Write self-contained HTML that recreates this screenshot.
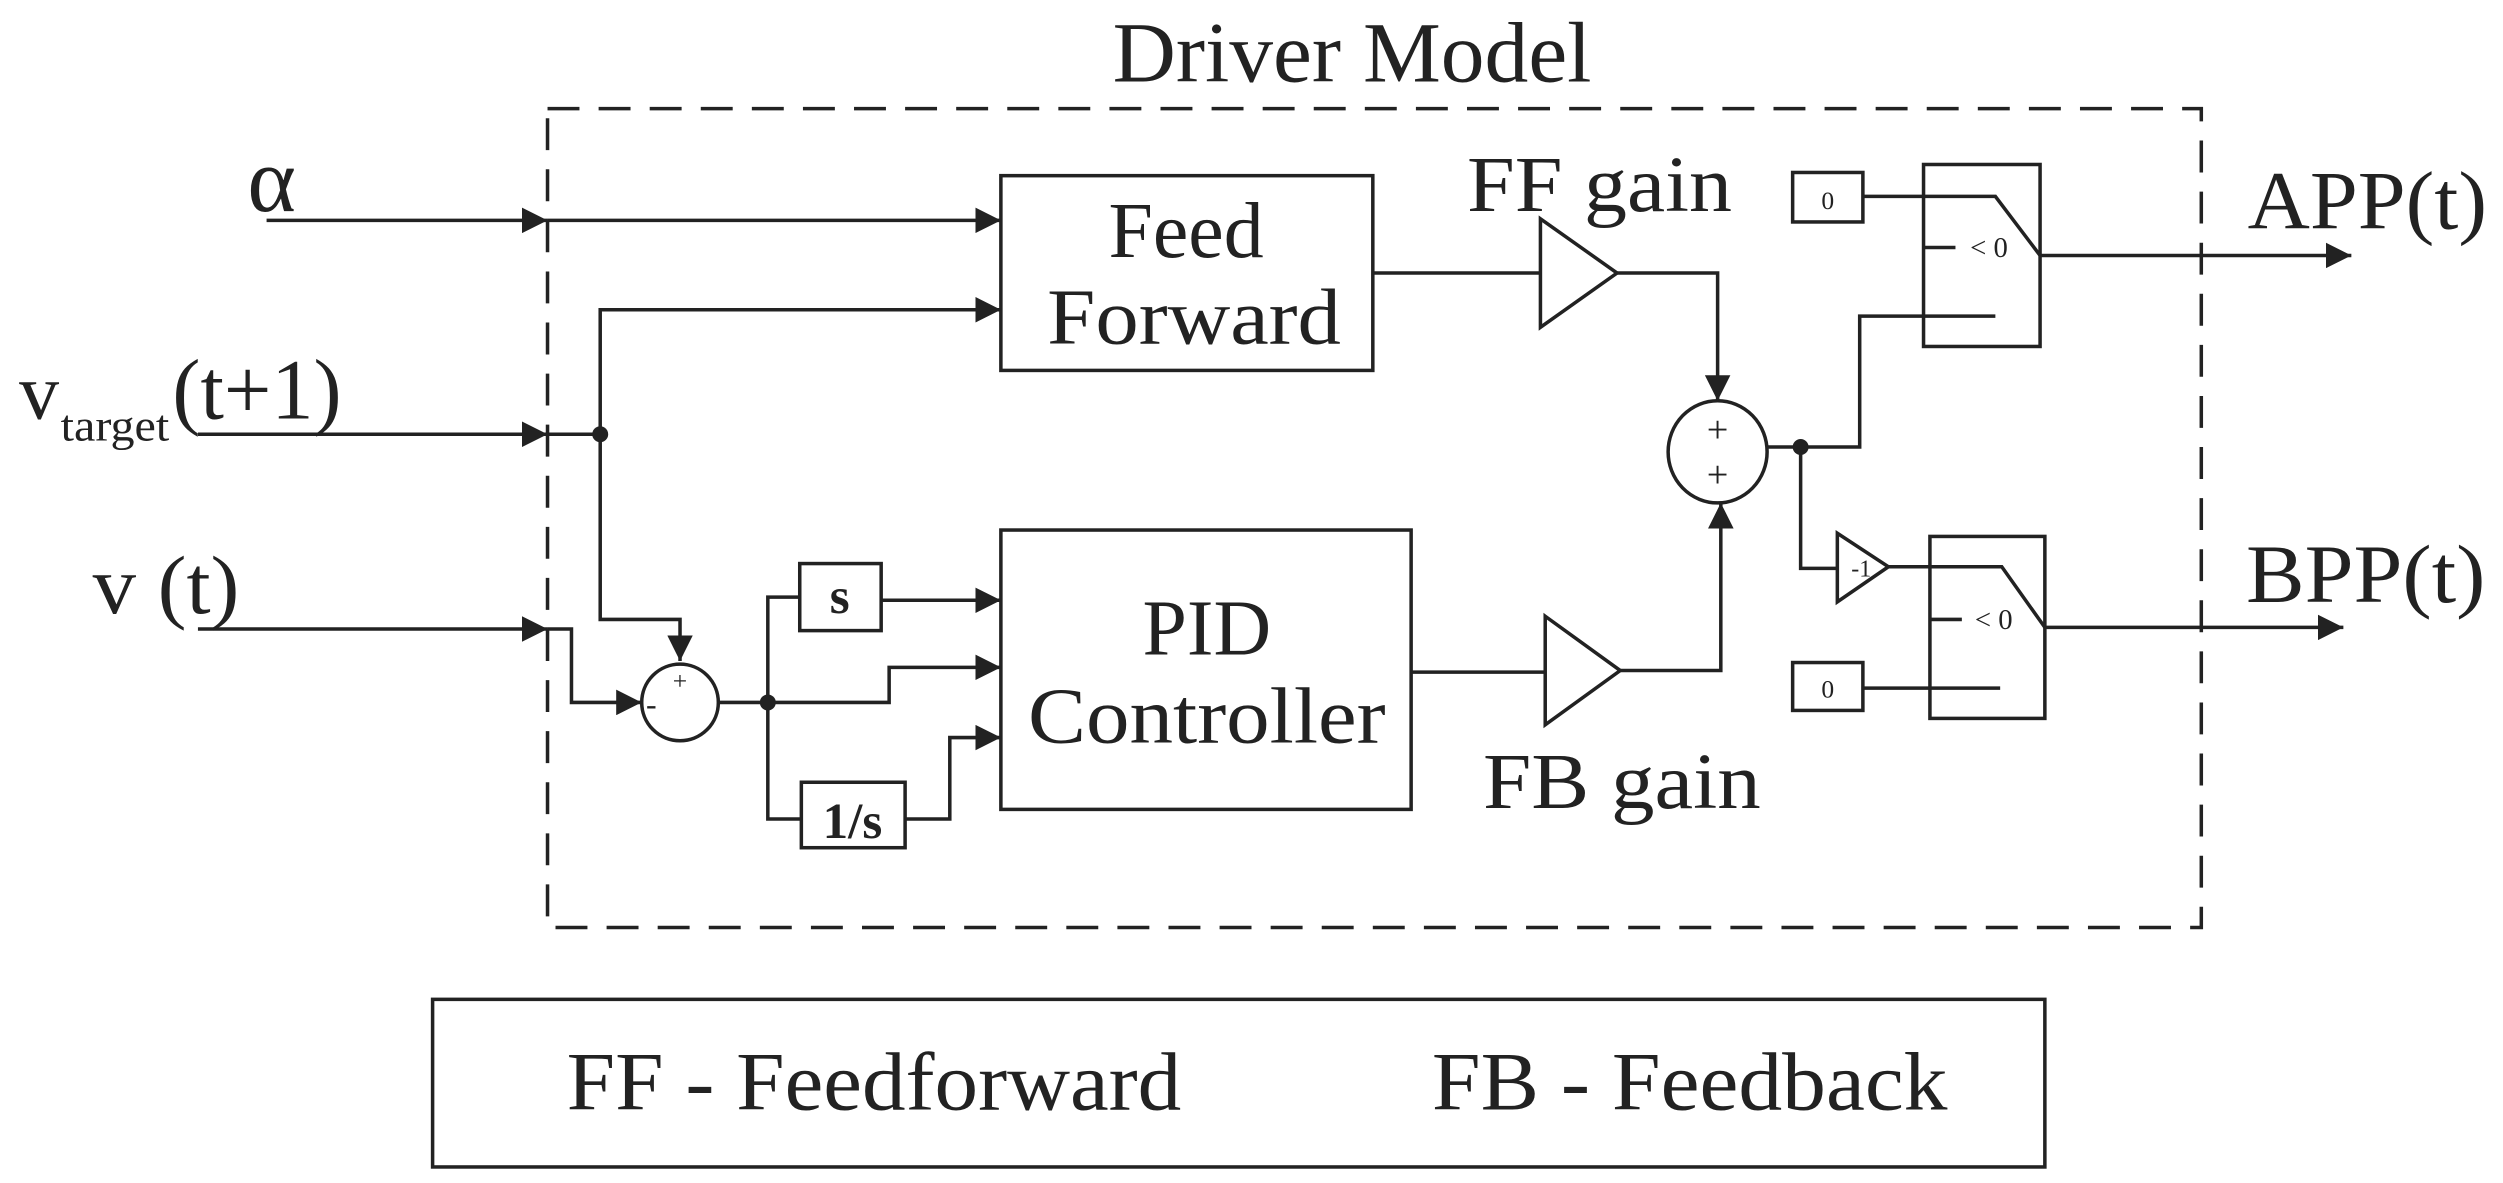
<!DOCTYPE html>
<html><head><meta charset="utf-8"><style>
html,body{margin:0;padding:0;background:#fff}
svg{display:block}
text{font-family:"Liberation Serif",serif;fill:#222}
</style></head><body>
<svg width="2503" height="1183" viewBox="0 0 1568 741" xmlns="http://www.w3.org/2000/svg">
<defs>
<marker id="a" viewBox="0 0 10 10" refX="10" refY="5" markerWidth="16" markerHeight="16" markerUnits="userSpaceOnUse" orient="auto"><path d="M0,0 L10,5 L0,10 z" fill="#222"/></marker>
</defs>
<g stroke="#222" stroke-width="2.2" fill="none">
<rect x="343" y="68" width="1036" height="513" stroke-dasharray="20 12"/>
<line x1="167" y1="138" x2="343" y2="138" marker-end="url(#a)"/>
<line x1="343" y1="138" x2="627" y2="138" marker-end="url(#a)"/>
<rect x="627" y="110" width="233" height="122"/>
<line x1="124" y1="272" x2="343" y2="272" marker-end="url(#a)"/>
<polyline points="343,272 376,272"/>
<polyline points="376,272 376,194 627,194" marker-end="url(#a)"/>
<polyline points="376,272 376,388 426,388 426,414" marker-end="url(#a)"/>
<line x1="124" y1="394" x2="343" y2="394" marker-end="url(#a)"/>
<polyline points="343,394 358,394 358,440 402,440" marker-end="url(#a)"/>
<ellipse cx="426" cy="440" rx="24" ry="24"/>
<line x1="450" y1="440" x2="481" y2="440"/>
<polyline points="481,440 481,374 501,374"/>
<rect x="501" y="353" width="51" height="42"/>
<line x1="552" y1="376" x2="627" y2="376" marker-end="url(#a)"/>
<polyline points="481,440 557,440 557,418 627,418" marker-end="url(#a)"/>
<polyline points="481,440 481,513 502,513"/>
<rect x="502" y="490" width="65" height="41"/>
<polyline points="567,513 595,513 595,462 627,462" marker-end="url(#a)"/>
<rect x="627" y="332" width="257" height="175"/>
<line x1="860" y1="171" x2="965" y2="171"/>
<polygon points="965,137 1013,171 965,205"/>
<polyline points="1013,171 1076,171 1076,251" marker-end="url(#a)"/>
<line x1="884" y1="421" x2="968" y2="421"/>
<polygon points="968,386 1015,420 968,454"/>
<polyline points="1015,420 1078,420 1078,315" marker-end="url(#a)"/>
<ellipse cx="1076" cy="283" rx="31" ry="32"/>
<line x1="1107" y1="280" x2="1128" y2="280"/>
<polyline points="1128,280 1165,280 1165,198 1250,198"/>
<rect x="1123" y="108" width="44" height="31"/>
<rect x="1205" y="103" width="73" height="114"/>
<polyline points="1167,123 1250,123 1278,160"/>
<line x1="1205" y1="155" x2="1225" y2="155"/>
<line x1="1278" y1="160" x2="1473" y2="160" marker-end="url(#a)"/>
<polyline points="1128,280 1128,356 1151,356"/>
<polygon points="1151,334 1183,355 1151,377"/>
<polyline points="1183,355 1254,355 1281,393"/>
<rect x="1209" y="336" width="72" height="114"/>
<line x1="1209" y1="388" x2="1229" y2="388"/>
<rect x="1123" y="415" width="44" height="30"/>
<line x1="1167" y1="431" x2="1253" y2="431"/>
<line x1="1281" y1="393" x2="1468" y2="393" marker-end="url(#a)"/>
<rect x="271" y="626" width="1010" height="105"/>
</g>
<g fill="#222">
<circle cx="376" cy="272" r="5"/>
<circle cx="481" cy="440" r="5"/>
<circle cx="1128" cy="280" r="5"/>
</g>
<g lengthAdjust="spacingAndGlyphs">
<text x="847" y="51" font-size="54" text-anchor="middle" textLength="300" lengthAdjust="spacingAndGlyphs">Driver Model</text>
<text x="155" y="132" font-size="58">α</text>
<text x="12" y="262" font-size="50">v</text>
<text x="38" y="276" font-size="28" textLength="68" lengthAdjust="spacingAndGlyphs">target</text>
<text x="108" y="262" font-size="54" textLength="106" lengthAdjust="spacingAndGlyphs">(t+1)</text>
<text x="58" y="384" font-size="52" textLength="92" lengthAdjust="spacingAndGlyphs">v (t)</text>
<text x="743" y="161" font-size="50" text-anchor="middle">Feed</text>
<text x="748" y="215" font-size="50" text-anchor="middle" textLength="184" lengthAdjust="spacingAndGlyphs">Forward</text>
<text x="756" y="410" font-size="50" text-anchor="middle">PID</text>
<text x="756" y="465" font-size="50" text-anchor="middle" textLength="224" lengthAdjust="spacingAndGlyphs">Controller</text>
<text x="526" y="384" font-size="32" font-weight="bold" text-anchor="middle">s</text>
<text x="534" y="525" font-size="32" font-weight="bold" text-anchor="middle">1/s</text>
<text x="426" y="432" font-size="16" text-anchor="middle">+</text>
<text x="408" y="448" font-size="20" text-anchor="middle">-</text>
<text x="1076" y="277" font-size="24" text-anchor="middle">+</text>
<text x="1076" y="305" font-size="24" text-anchor="middle">+</text>
<text x="919" y="132" font-size="50" textLength="166" lengthAdjust="spacingAndGlyphs">FF gain</text>
<text x="929" y="506" font-size="50" textLength="174" lengthAdjust="spacingAndGlyphs">FB gain</text>
<text x="1145" y="131" font-size="16" text-anchor="middle">0</text>
<text x="1145" y="437" font-size="16" text-anchor="middle">0</text>
<text x="1246" y="161" font-size="18" text-anchor="middle">&lt; 0</text>
<text x="1249" y="394" font-size="18" text-anchor="middle">&lt; 0</text>
<text x="1166" y="361" font-size="15" text-anchor="middle">-1</text>
<text x="1408" y="143" font-size="52" textLength="150" lengthAdjust="spacingAndGlyphs">APP(t)</text>
<text x="1407" y="377" font-size="52" textLength="150" lengthAdjust="spacingAndGlyphs">BPP(t)</text>
<text x="355" y="695" font-size="52" textLength="385" lengthAdjust="spacingAndGlyphs">FF - Feedforward</text>
<text x="897" y="695" font-size="52" textLength="323" lengthAdjust="spacingAndGlyphs">FB - Feedback</text>
</g>
</svg>
</body></html>
